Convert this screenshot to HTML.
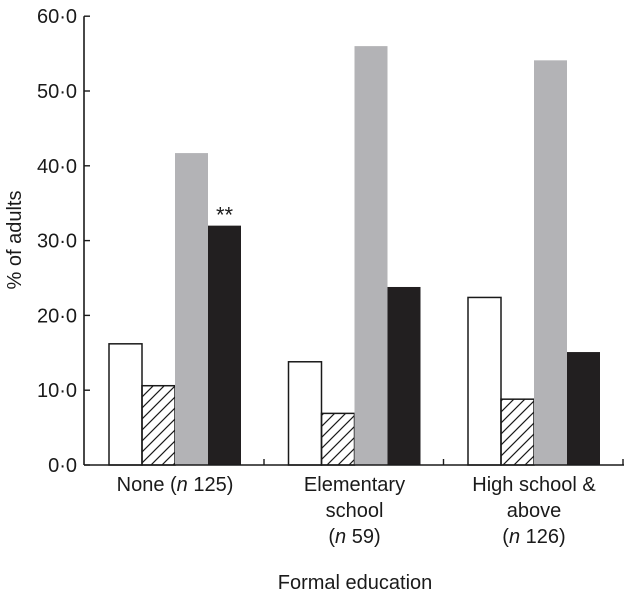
<!DOCTYPE html>
<html><head><meta charset="utf-8"><style>
html,body{margin:0;padding:0;background:#fff;}
svg text{font-family:"Liberation Sans",Arial,sans-serif;fill:#1a1a1a;}
</style></head><body>
<svg id="chart" width="624" height="594" viewBox="0 0 624 594" xmlns="http://www.w3.org/2000/svg">
<defs>
<pattern id="hatch" patternUnits="userSpaceOnUse" width="11" height="11">
<path d="M-1,12 L12,-1 M-3,3 L3,-3 M8,14 L14,8" stroke="#1a1a1a" stroke-width="1.2"/>
</pattern>
</defs>
<g id="bars"></g>
<g id="axes"></g>
</svg>
<script>
const categories = [["None (", "n", " 125)"], ["Elementary", "school", "(n 59)"], ["High school &", "above", "(n 126)"]];
const seriesWhite = [16.2, 13.8, 22.4];
const seriesHatched = [10.6, 6.9, 8.8];
const seriesGray = [41.7, 56.0, 54.1];
const seriesBlack = [32.0, 23.8, 15.1];
const yTicks = [0, 10, 20, 30, 40, 50, 60];
const yTickLabels = ["0·0", "10·0", "20·0", "30·0", "40·0", "50·0", "60·0"];
const annotations = [["**", 3, 0]];

const NS = "http://www.w3.org/2000/svg";
const x0 = 84, y0 = 465, pxPerUnit = 7.48;
const groupStart = 109, groupStep = 179.5, barW = 33;
const y = v => y0 - v * pxPerUnit;
const xBar = (ci, si) => groupStart + ci * groupStep + si * barW;
function mk(tag, attrs, parent) {
  const e = document.createElementNS(NS, tag);
  for (const k in attrs) e.setAttribute(k, attrs[k]);
  parent.appendChild(e);
  return e;
}
const bars = document.getElementById('bars');
const axes = document.getElementById('axes');
const series = [seriesWhite, seriesHatched, seriesGray, seriesBlack];
const names = ['white', 'hatched', 'gray', 'black'];
const fills = ['#fff', 'url(#hatch)', '#b3b3b6', '#221f20'];
const strokes = ['#1a1a1a', '#1a1a1a', 'none', 'none'];
series.forEach((s, si) => {
  s.forEach((v, ci) => {
    const r = mk('rect', {x: xBar(ci, si), y: y(v), width: barW, height: y0 - y(v), fill: fills[si], stroke: strokes[si], 'stroke-width': 1.5}, bars);
    
    
  });
});
annotations.forEach(a => {
  const t = mk('text', {x: xBar(a[2], a[1]) + barW / 2, y: y(series[a[1]][a[2]]) - 3, 'text-anchor': 'middle', 'font-size': 22}, bars);
  t.textContent = a[0];
  
  
});
mk('line', {x1: x0, y1: y(60), x2: x0, y2: y0, stroke: '#1a1a1a', 'stroke-width': 1.6}, axes);
mk('line', {x1: x0, y1: y0, x2: 624, y2: y0, stroke: '#1a1a1a', 'stroke-width': 1.6}, axes);
yTicks.forEach((v, i) => {
  mk('line', {x1: x0, y1: y(v), x2: x0 + 6, y2: y(v), stroke: '#1a1a1a', 'stroke-width': 1.4}, axes);
  const t = mk('text', {x: 77, y: y(v) + 7, 'text-anchor': 'end', 'font-size': 20}, axes);
  t.textContent = yTickLabels[i];
  
  
});
[0, 1, 2].forEach(ci => {
  const xt = groupStart + ci * groupStep + 4 * barW + 23;
  mk('line', {x1: xt, y1: y0, x2: xt, y2: y0 - 6, stroke: '#1a1a1a', 'stroke-width': 1.4}, axes);
});
categories.forEach((c, ci) => {
  const cx = groupStart + ci * groupStep + 2 * barW;
  const t = mk('text', {x: cx, y: 491, 'text-anchor': 'middle', 'font-size': 20}, axes);
  
  
  if (ci === 0) {
    t.innerHTML = 'None (<tspan font-style="italic">n</tspan> 125)';
  } else {
    t.textContent = c[0];
    const t2 = mk('text', {x: cx, y: 517, 'text-anchor': 'middle', 'font-size': 20}, axes);
    t2.textContent = c[1];
    const m = c[2].match(/\(n (\d+)\)/);
    const t3 = mk('text', {x: cx, y: 543, 'text-anchor': 'middle', 'font-size': 20}, axes);
    t3.innerHTML = '(<tspan font-style="italic">n</tspan> ' + m[1] + ')';
  }
});
const xt = mk('text', {x: 355, y: 589, 'text-anchor': 'middle', 'font-size': 20}, axes);
xt.textContent = 'Formal education';


const yt = mk('text', {x: 0, y: 0, 'text-anchor': 'middle', 'font-size': 20, transform: 'translate(21,240) rotate(-90)'}, axes);
yt.textContent = '% of adults';


</script>
</body></html>
